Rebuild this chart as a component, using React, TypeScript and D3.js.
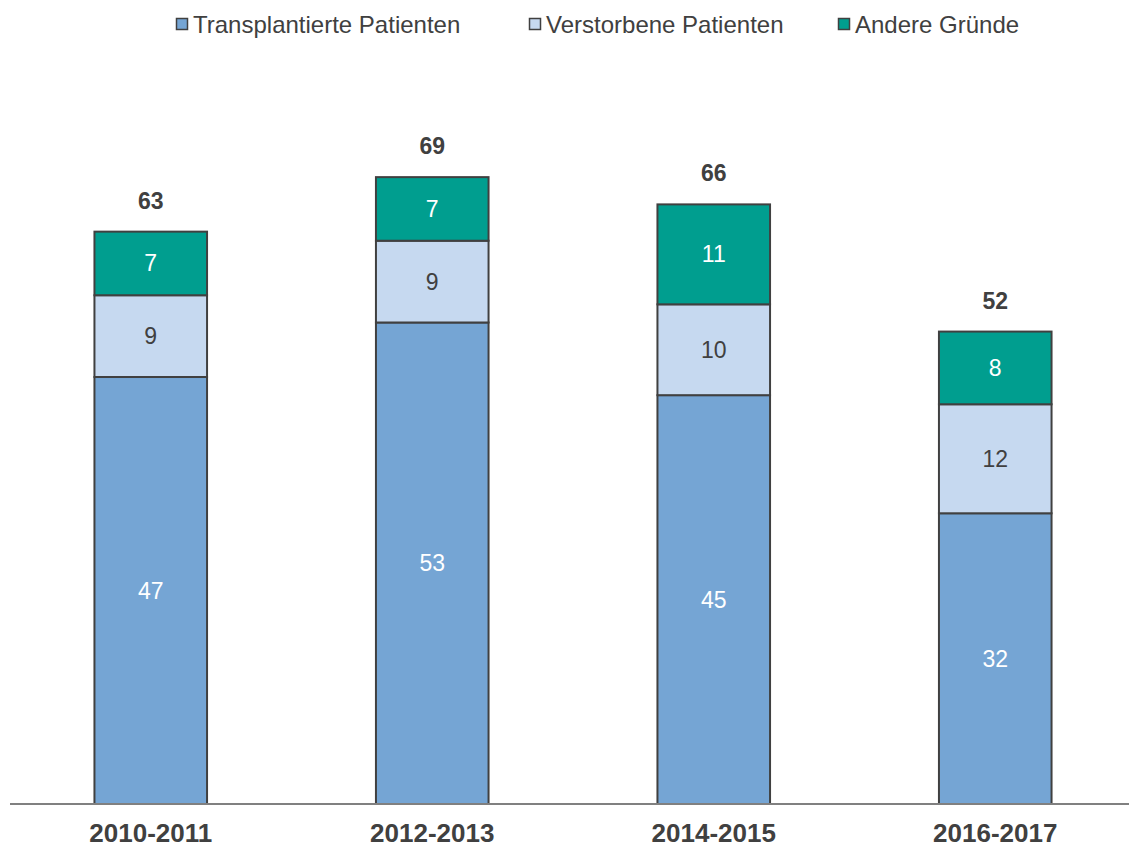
import React from "react";
import * as d3 from "d3";

const categories = ["2010-2011", "2012-2013", "2014-2015", "2016-2017"];
const transplantiert = [47, 53, 45, 32];
const verstorben = [9, 9, 10, 12];
const andere = [7, 7, 11, 8];
const seriesNames = ["Transplantierte Patienten", "Verstorbene Patienten", "Andere Gründe"];

const colors = ["#75A5D4", "#C6D9F0", "#009E8F"];
const labelColors = ["#FFFFFF", "#404040", "#FFFFFF"];

const W = 1129;
const H = 849;
const FONT = "'Liberation Sans', Arial, sans-serif";

export default function App() {
  const keys = ["t", "v", "a"];
  const rows = categories.map((c, i) => ({ cat: c, t: transplantiert[i], v: verstorben[i], a: andere[i] }));
  const stack = d3.stack<any>().keys(keys)(rows);

  const x = d3.scaleBand().domain(categories).range([10, 1136]).paddingInner(0.6).paddingOuter(0.3);
  const y = d3.scaleLinear().domain([0, 70]).range([804, 804 - 70 * 9.085]);

  const legendX = [176, 529, 838];

  return (
    <svg width={W} height={H} style={{ position: "absolute", left: 0, top: 0 }} fontFamily={FONT}>
      <rect width={W} height={H} fill="#fff" />
      {/* legend */}
      {seriesNames.map((n, i) => (
        <g key={n} transform={`translate(${legendX[i]},0)`}>
          <rect x={0.5} y={18.5} width={11} height={11} fill={colors[i]} stroke="#404040" strokeWidth={1.5} />
          <text x={17} y={33} fontSize={24} fill="#404040">{n}</text>
        </g>
      ))}
      {/* bars */}
      {stack.map((s, si) => (
        <g key={si}>
          {s.map((d, i) => {
            const x0 = x(categories[i])!;
            const y0 = y(d[1]);
            const y1 = y(d[0]);
            return (
              <g key={i}>
                <rect x={x0} y={y0} width={x.bandwidth()} height={y1 - y0} fill={colors[si]} stroke="#404040" strokeWidth={2} />
                <text x={x0 + x.bandwidth() / 2} y={(y0 + y1) / 2 + 8} textAnchor="middle" fontSize={23} fill={labelColors[si]}>
                  {d[1] - d[0]}
                </text>
              </g>
            );
          })}
        </g>
      ))}
      {/* totals */}
      {rows.map((r, i) => {
        const tot = r.t + r.v + r.a;
        return (
          <text key={i} x={x(r.cat)! + x.bandwidth() / 2} y={y(tot) - 23} textAnchor="middle" fontSize={23} fontWeight="bold" fill="#404040">
            {tot}
          </text>
        );
      })}
      {/* axis */}
      <line x1={10} x2={W} y1={804} y2={804} stroke="#808080" strokeWidth={2} />
      {categories.map((c) => (
        <text key={c} x={x(c)! + x.bandwidth() / 2} y={842} textAnchor="middle" fontSize={26} fontWeight="bold" fill="#404040">
          {c}
        </text>
      ))}
    </svg>
  );
}
